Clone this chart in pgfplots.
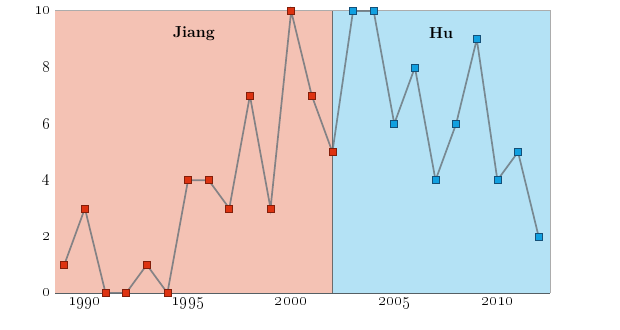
\documentclass[border=0pt]{standalone}
\usepackage{pgfplots}
\pgfplotsset{compat=1.18}
\definecolor{jiangbg}{RGB}{244,194,180}
\definecolor{hubg}{RGB}{180,226,245}
\definecolor{jiangmk}{RGB}{221,51,17}
\definecolor{jiangbd}{RGB}{130,30,10}
\definecolor{humk}{RGB}{17,160,224}
\definecolor{hubd}{RGB}{20,80,120}
\definecolor{linec}{RGB}{105,115,122}
\definecolor{bottomc}{RGB}{85,95,100}
\newcommand{\os}[1]{{\fontsize{16}{18}\selectfont\oldstylenums{#1}}}
\begin{document}
\begin{tikzpicture}
\useasboundingbox (-55bp,-37bp) rectangle (565bp,293bp);
\begin{axis}[at={(0,0)}, anchor=south west, scale only axis,
  width=495bp, height=282bp,
  xmin=1988.55, xmax=2012.55, ymin=0, ymax=10, clip=false,
  axis x line*=bottom, axis y line*=left,
  x axis line style={-, draw=bottomc, line width=1.5bp},
  y axis line style={-, draw=black, line width=0.9bp},
  xtick={1990,1995,2000,2005,2010},
  xticklabels={\os{1990},\os{1995},\os{2000},\os{2005},\os{2010}},
  ytick={0,2,4,6,8,10},
  yticklabels={\os{0},\os{2},\os{4},\os{6},\os{8},\os{10}},
  tick align=inside, major tick length=12bp,
  xtick style={draw=none},
  ytick style={draw=bottomc, line width=1bp},
  xticklabel style={yshift=-2bp},
  yticklabel style={xshift=-1bp},
]
\addplot[fill=jiangbg, draw=none] coordinates {(1988.55,0) (2002,0) (2002,10) (1988.55,10)} --cycle;
\addplot[fill=hubg, draw=none] coordinates {(2002,0) (2012.55,0) (2012.55,10) (2002,10)} --cycle;
\addplot[draw=gray!65, line width=1bp] coordinates {(1988.55,10) (2012.55,10) (2012.55,0)};
\addplot[draw=gray!85!black, line width=0.8bp] coordinates {(2002,0) (2002,10)};
\node at (axis cs:1995.28,9.2) {\fontsize{16}{18}\selectfont\bfseries Jiang};
\node at (axis cs:2007.27,9.2) {\fontsize{16}{18}\selectfont\bfseries Hu};
\addplot[draw=linec, draw opacity=0.8, line width=1.7bp] coordinates {
(1989,1) (1990,3) (1991,0) (1992,0) (1993,1) (1994,0) (1995,4) (1996,4)
(1997,3) (1998,7) (1999,3) (2000,10) (2001,7) (2002,5) (2003,10) (2004,10)
(2005,6) (2006,8) (2007,4) (2008,6) (2009,9) (2010,4) (2011,5) (2012,2)};
\addplot[only marks, mark=square*, mark size=3.5bp, mark options={fill=jiangmk, draw=jiangbd, line width=0.6bp}] coordinates {
(1989,1) (1990,3) (1991,0) (1992,0) (1993,1) (1994,0) (1995,4) (1996,4)
(1997,3) (1998,7) (1999,3) (2000,10) (2001,7) (2002,5)};
\addplot[only marks, mark=square*, mark size=3.5bp, mark options={fill=humk, draw=hubd, line width=0.6bp}] coordinates {
(2003,10) (2004,10) (2005,6) (2006,8) (2007,4) (2008,6) (2009,9) (2010,4) (2011,5) (2012,2)};
\end{axis}
\end{tikzpicture}
\end{document}
